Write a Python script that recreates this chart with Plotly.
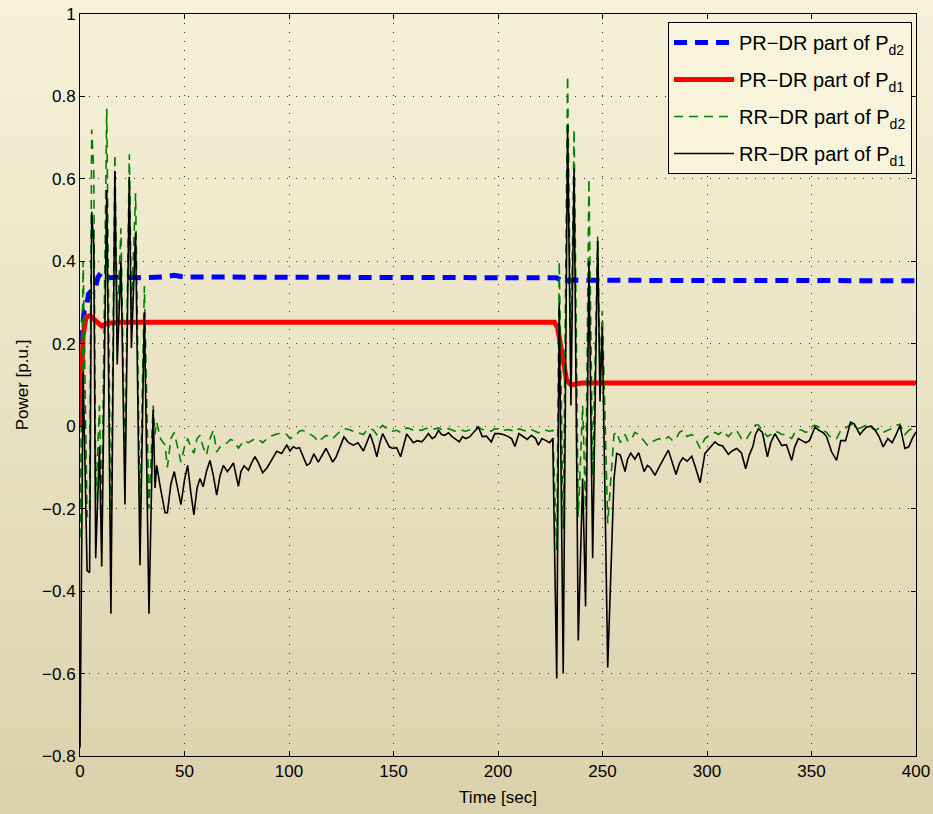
import base64
import struct
import zlib

import plotly.graph_objects as go

# ---------------- data ----------------
t_rr = [0, 1.5, 3.4, 4.6, 5.6, 6.6, 7.5, 9.3, 10.4, 12.8,
        14.8, 16.7, 17.8, 19.6, 21.5, 23.6, 24.6, 26.6, 28.7, 30.8,
        33.0, 35.0, 35.9, 36.7, 38.5, 40.7, 41.8, 43.5, 45.1, 46.8,
        48.3, 50, 51.5, 53, 54.5, 56, 57.4, 58.9, 60.5, 62.2,
        63.8, 65.4, 67, 68.6, 70.5, 72, 73.4, 75.8, 77, 78.5,
        80.6, 82, 83.7, 85.5, 87.4, 89.6, 90.9, 92.5, 94.1, 96.5,
        98.9, 100.5, 102, 103.6, 105, 106.5, 108.5, 110, 111.9, 114,
        115.8, 117.7, 119.3, 120.9, 122.5, 124.5, 126.3, 128.5, 130.8, 133,
        135.6, 137.2, 138.8, 140.5, 142, 143.5, 144.8, 146.5, 148, 149.6,
        151.5, 153.4, 155, 156.3, 158, 159.5, 161.5, 163.5, 165, 166.7,
        168.5, 170, 171.5, 173, 174.5, 176.3, 178, 179.5, 181.5, 183,
        184.5, 186.4, 188.5, 190.6, 192.5, 194.5, 196.8, 198.5, 200.5, 202.5,
        204.5, 206.5, 208.1, 210, 212, 214, 216, 218, 219.3, 221,
        223, 224.7, 226.2, 228.1, 229.3, 231.2, 233.3, 234.9, 236.4, 238.4,
        240.5, 241.9, 243.5, 245.3, 247.7, 248.8, 249.9, 252.5, 255.5, 256.8,
        258.5, 260.8, 262, 263.5, 265.5, 267.3, 269.9, 271.5, 272.8, 275.1,
        277, 279, 281.5, 283.5, 285.2, 286.8, 288.4, 290.5, 292.7, 294.5,
        296.7, 299, 301.5, 303.8, 305.5, 307.5, 310.2, 312, 314.2, 316.5,
        318.5, 320.2, 321.9, 323.2, 324.6, 326.5, 328.9, 330.5, 332.5, 334.2,
        335.8, 338, 340.5, 342, 343.7, 345.5, 347.2, 349, 350.5, 351.7,
        353.5, 355.5, 357.2, 359.6, 362, 364, 366.3, 368.7, 370.5, 372,
        373.2, 374.8, 376.4, 378.5, 380.5, 382.3, 384.3, 386.5, 388.6, 390.5,
        392.3, 394.7, 396.5, 398.2, 400]

rr_pd1 = [-0.78, 0.13, -0.35, -0.355, 0.52, 0.44, -0.32, -0.05, -0.34, 0.573,
          -0.455, 0.62, 0.15, 0.40, -0.19, 0.605, 0.19, 0.47, -0.337, 0.277,
          -0.455, 0.04, -0.15, -0.095, -0.15, -0.21, -0.21, -0.14, -0.11, -0.15,
          -0.19, -0.13, -0.095, -0.16, -0.215, -0.15, -0.127, -0.147, -0.11, -0.083,
          -0.12, -0.167, -0.12, -0.095, -0.11, -0.10, -0.089, -0.146, -0.11, -0.096,
          -0.107, -0.09, -0.074, -0.09, -0.113, -0.10, -0.09, -0.075, -0.061, -0.066,
          -0.046, -0.06, -0.05, -0.054, -0.052, -0.07, -0.095, -0.09, -0.067, -0.087,
          -0.07, -0.054, -0.07, -0.087, -0.075, -0.05, -0.026, -0.04, -0.046, -0.04,
          -0.06, -0.04, -0.019, -0.045, -0.074, -0.04, -0.018, -0.035, -0.05, -0.054,
          -0.052, -0.074, -0.045, -0.019, -0.03, -0.04, -0.035, -0.038, -0.03, -0.018,
          -0.03, -0.025, -0.01, -0.02, -0.022, -0.016, -0.025, -0.03, -0.038, -0.025,
          -0.03, -0.026, -0.015, -0.002, -0.025, -0.024, -0.038, -0.018, -0.018, -0.02,
          -0.024, -0.03, -0.049, -0.018, -0.025, -0.032, -0.022, -0.03, -0.046, -0.03,
          -0.035, -0.04, -0.03, -0.612, 0.30, -0.60, 0.73, 0.05, 0.625, -0.52,
          -0.127, -0.437, 0.40, -0.32, 0.45, 0.06, 0.24, -0.585, -0.127, -0.066,
          -0.07, -0.11, -0.08, -0.065, -0.08, -0.064, -0.11, -0.095, -0.10, -0.119,
          -0.10, -0.08, -0.058, -0.09, -0.117, -0.09, -0.077, -0.085, -0.073, -0.10,
          -0.137, -0.066, -0.05, -0.038, -0.045, -0.048, -0.068, -0.06, -0.054, -0.065,
          -0.103, -0.07, -0.05, -0.02, -0.006, -0.015, -0.074, -0.04, -0.018, -0.035,
          -0.047, -0.045, -0.083, -0.05, -0.03, -0.035, -0.04, -0.035, -0.015, -0.002,
          -0.01, -0.015, -0.025, -0.062, -0.083, -0.035, -0.035, 0.01, 0.005, -0.01,
          -0.02, -0.01, -0.002, 0.0, -0.01, -0.025, -0.05, -0.03, -0.04, -0.02,
          0.002, -0.054, -0.05, -0.03, -0.014]

rr_pd2 = [-0.27, 0.40, -0.22, -0.20, 0.72, 0.62, -0.18, 0.05, -0.22, 0.77,
          -0.30, 0.66, 0.25, 0.48, -0.10, 0.66, 0.28, 0.565, -0.22, 0.34,
          -0.20, 0.05, -0.02, 0.01, -0.03, -0.046, -0.10, -0.03, -0.015, -0.05,
          -0.087, -0.05, -0.03, -0.05, -0.066, -0.03, -0.022, -0.05, -0.07, -0.03,
          -0.01, -0.063, -0.05, -0.045, -0.04, -0.032, -0.035, -0.053, -0.045, -0.035,
          -0.04, -0.035, -0.03, -0.032, -0.04, -0.03, -0.025, -0.022, -0.019, -0.017,
          -0.02, -0.03, -0.025, -0.02, -0.012, -0.01, -0.015, -0.02, -0.025, -0.038,
          -0.03, -0.022, -0.025, -0.03, -0.022, -0.012, -0.006, -0.008, -0.012, -0.015,
          -0.02, -0.01, -0.005, -0.01, -0.02, -0.005, 0.002, -0.005, -0.01, -0.012,
          -0.01, -0.015, -0.008, -0.004, -0.006, -0.01, -0.008, -0.01, -0.006, -0.005,
          -0.008, -0.006, -0.004, -0.008, -0.01, -0.006, -0.01, -0.012, -0.014, -0.01,
          -0.012, -0.01, -0.006, -0.002, -0.008, -0.01, -0.012, -0.006, -0.008, -0.01,
          -0.008, -0.01, -0.014, -0.006, -0.01, -0.012, -0.008, -0.012, -0.016, -0.012,
          -0.01, -0.012, -0.01, -0.30, 0.40, -0.25, 0.85, 0.15, 0.72, -0.22,
          0.05, -0.20, 0.60, -0.12, 0.46, 0.12, 0.28, -0.236, -0.02, -0.014,
          -0.04, -0.02, -0.035, -0.035, -0.015, -0.02, -0.035, -0.046, -0.04, -0.035,
          -0.03, -0.035, -0.025, -0.035, -0.03, -0.015, -0.01, -0.025, -0.02, -0.03,
          -0.054, -0.03, -0.02, -0.015, -0.02, -0.012, -0.025, -0.015, -0.01, -0.03,
          -0.035, -0.02, -0.008, 0.003, 0.003, -0.01, -0.025, -0.02, -0.012, -0.015,
          -0.02, -0.02, -0.03, -0.015, -0.008, -0.01, -0.015, -0.01, 0.0, 0.002,
          -0.002, -0.01, -0.015, -0.03, -0.03, -0.01, -0.005, 0.005, 0.0, -0.005,
          -0.005, 0.0, 0.003, -0.002, -0.01, -0.005, -0.015, -0.01, -0.005, 0.002,
          0.005, -0.02, -0.01, -0.005, -0.005]

t_pr_pd2 = [0, 0.5, 1, 2, 3, 4, 5, 7, 8.5, 10, 12, 14, 20, 30, 40, 45, 50,
            100, 200, 228, 230, 232, 234, 236, 240, 300, 400]
pr_pd2 = [0.15, 0.21, 0.22, 0.28, 0.285, 0.32, 0.326, 0.33, 0.36, 0.372, 0.365,
          0.36, 0.362, 0.36, 0.362, 0.366, 0.362, 0.362, 0.361, 0.36, 0.355,
          0.362, 0.352, 0.355, 0.354, 0.354, 0.353]

t_pr_pd1 = [0, 0.4, 0.8, 1.5, 2.9, 4.8, 7.2, 10.4, 13, 20, 100, 227, 228.5,
            231, 232.8, 235, 240, 300, 400]
pr_pd1 = [0.0, 0.15, 0.12, 0.22, 0.265, 0.268, 0.258, 0.243, 0.25, 0.252,
          0.252, 0.252, 0.24, 0.16, 0.112, 0.10, 0.105, 0.105, 0.105]

x_ticks = [0, 50, 100, 150, 200, 250, 300, 350, 400]
y_ticks = [-0.8, -0.6, -0.4, -0.2, 0, 0.2, 0.4, 0.6, 0.8, 1]
y_labels = ["\u22120.8", "\u22120.6", "\u22120.4", "\u22120.2", "0",
            "0.2", "0.4", "0.6", "0.8", "1"]

names = ["PR\u2212DR part of P<sub>d2</sub>", "PR\u2212DR part of P<sub>d1</sub>",
         "RR\u2212DR part of P<sub>d2</sub>", "RR\u2212DR part of P<sub>d1</sub>"]

# ---------------- styling ----------------
W, H = 933, 814
ML, MR, MT, MB = 80, 17, 14, 58
FONT = "Liberation Sans, Arial, Helvetica, sans-serif"
BG_TOP = (246, 242, 217)
BG_BOTTOM = (219, 209, 172)


def gradient_png(top, bottom, n):
    rows = b""
    for i in range(n):
        f = i / (n - 1)
        rgb = bytes(int(round(a + (b - a) * f)) for a, b in zip(top, bottom))
        rows += b"\x00" + rgb

    def chunk(tag, data):
        c = struct.pack(">I", len(data)) + tag + data
        return c + struct.pack(">I", zlib.crc32(tag + data) & 0xFFFFFFFF)

    png = b"\x89PNG\r\n\x1a\n"
    png += chunk(b"IHDR", struct.pack(">IIBBBBB", 1, n, 8, 2, 0, 0, 0))
    png += chunk(b"IDAT", zlib.compress(rows))
    png += chunk(b"IEND", b"")
    return "data:image/png;base64," + base64.b64encode(png).decode()


pw, ph = W - ML - MR, H - MT - MB

fig = go.Figure()
fig.add_trace(go.Scatter(x=t_pr_pd2, y=pr_pd2, mode="lines", name=names[0], legendgroup="a",
                         line=dict(color="#0000ff", width=5, dash="13px,8px")))
fig.add_trace(go.Scatter(x=t_pr_pd1, y=pr_pd1, mode="lines", name=names[1], legendgroup="b",
                         line=dict(color="#ff0000", width=5)))
fig.add_trace(go.Scatter(x=t_rr, y=rr_pd2, mode="lines", name=names[2], legendgroup="c",
                         line=dict(color="#008000", width=1.6, dash="9px,6px")))
fig.add_trace(go.Scatter(x=t_rr, y=rr_pd1, mode="lines", name=names[3], legendgroup="d",
                         line=dict(color="#000000", width=1.6)))

axis_common = dict(showline=True, linecolor="black", linewidth=1, mirror="ticks",
                   ticks="inside", ticklen=5, tickcolor="black", automargin=False,
                   showgrid=True, gridcolor="#333333", gridwidth=1, griddash="1px,8px",
                   zeroline=False, tickfont=dict(family=FONT, size=17, color="black"),
                   title_font=dict(family=FONT, size=17, color="black"))

fig.update_xaxes(range=[0, 400], tickvals=x_ticks, ticktext=[str(v) for v in x_ticks],
                 title_text="Time [sec]", title_standoff=10, **axis_common)
fig.update_yaxes(range=[-0.8, 1], tickvals=y_ticks, ticktext=y_labels,
                 title_text="Power [p.u.]", title_standoff=9, **axis_common)

fig.update_layout(
    width=W, height=H, autosize=False,
    margin=dict(l=ML, r=MR, t=MT, b=MB, pad=0, autoexpand=False),
    paper_bgcolor="rgb(233,226,196)", plot_bgcolor="rgba(255,255,255,0.3)",
    font=dict(family=FONT, color="black"),
    showlegend=True,
    legend=dict(x=(668 - ML) / pw, y=1 - 8 / ph, xanchor="left", yanchor="top",
                bgcolor="#f8f4dc", bordercolor="black", borderwidth=1,
                font=dict(family=FONT, size=20, color="black"),
                itemwidth=60, tracegroupgap=8, traceorder="grouped"),
    images=[dict(source=gradient_png(BG_TOP, BG_BOTTOM, H), xref="paper", yref="paper",
                 x=-ML / pw, y=1 + MT / ph, sizex=W / pw, sizey=H / ph,
                 xanchor="left", yanchor="top", sizing="stretch", layer="below")],
)

fig.write_html("out.html",
               config={"responsive": False, "displayModeBar": False},
               post_script="document.body.style.margin='0px';"
                           "document.body.style.overflow='hidden';")
